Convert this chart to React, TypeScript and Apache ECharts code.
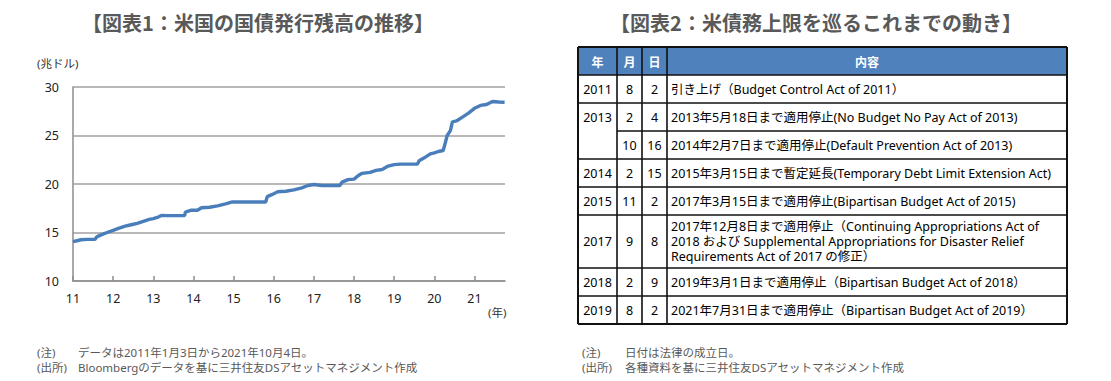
import React, { useEffect, useRef } from 'react';
import * as echarts from 'echarts';

const title1 = '【図表1：米国の国債発行残高の推移】';
const title2 = '【図表2：米債務上限を巡るこれまでの動き】';
const yUnitLabel = '(兆ドル)';
const xUnitLabel = '(年)';

const xTickYears = [2011, 2012, 2013, 2014, 2015, 2016, 2017, 2018, 2019, 2020, 2021];
const xTickLabels = ['11', '12', '13', '14', '15', '16', '17', '18', '19', '20', '21'];

// Debt outstanding (trillion USD)
const debtDates = [
  2011.0, 2011.1, 2011.2, 2011.35, 2011.55, 2011.59, 2011.7, 2011.85,
  2012.0, 2012.15, 2012.3, 2012.45, 2012.6, 2012.75, 2012.9,
  2013.0, 2013.1, 2013.2, 2013.35, 2013.55, 2013.78, 2013.8, 2013.95,
  2014.1, 2014.2, 2014.4, 2014.6, 2014.8, 2014.97,
  2015.2, 2015.5, 2015.8, 2015.84, 2015.95,
  2016.1, 2016.3, 2016.5, 2016.7, 2016.85,
  2017.0, 2017.2, 2017.45, 2017.65, 2017.7, 2017.85,
  2018.0, 2018.1, 2018.2, 2018.4, 2018.55, 2018.7, 2018.85,
  2019.0, 2019.15, 2019.35, 2019.58, 2019.62, 2019.75, 2019.9,
  2020.0, 2020.1, 2020.22, 2020.27, 2020.32, 2020.4, 2020.45, 2020.55, 2020.7, 2020.85,
  2021.0, 2021.15, 2021.3, 2021.45, 2021.6, 2021.75,
];
const debtValues = [
  14.05, 14.15, 14.25, 14.29, 14.29, 14.55, 14.75, 15.0,
  15.22, 15.45, 15.65, 15.8, 15.95, 16.15, 16.35,
  16.43, 16.55, 16.75, 16.74, 16.74, 16.74, 17.1, 17.3,
  17.3, 17.55, 17.6, 17.75, 17.95, 18.15,
  18.15, 18.15, 18.15, 18.7, 18.9,
  19.2, 19.25, 19.4, 19.6, 19.85,
  19.95, 19.85, 19.85, 19.85, 20.2, 20.45,
  20.5, 20.85, 21.1, 21.2, 21.4, 21.5, 21.85,
  22.0, 22.05, 22.05, 22.05, 22.4, 22.7, 23.1,
  23.2, 23.35, 23.45, 24.2, 25.0, 25.5, 26.4, 26.5, 26.9, 27.3,
  27.8, 28.1, 28.2, 28.5, 28.45, 28.43,
];

const tableHeaders = ['年', '月', '日', '内容'];
const tableYears = ['2011', '2013', '', '2014', '2015', '2017', '2018', '2019'];
const tableMonths = ['8', '2', '10', '2', '11', '9', '2', '8'];
const tableDays = ['2', '4', '16', '15', '2', '8', '9', '2'];
const tableContents = [
  '引き上げ（Budget Control Act of 2011）',
  '2013年5月18日まで適用停止(No Budget No Pay Act of 2013)',
  '2014年2月7日まで適用停止(Default Prevention Act of 2013)',
  '2015年3月15日まで暫定延長(Temporary Debt Limit Extension Act)',
  '2017年3月15日まで適用停止(Bipartisan Budget Act of 2015)',
  '2017年12月8日まで適用停止（Continuing Appropriations Act of\n2018 および Supplemental Appropriations for Disaster Relief\nRequirements Act of 2017 の修正）',
  '2019年3月1日まで適用停止（Bipartisan Budget Act of 2018）',
  '2021年7月31日まで適用停止（Bipartisan Budget Act of 2019）',
];

const notes1Tags = ['(注)', '(出所)'];
const notes1Texts = ['データは2011年1月3日から2021年10月4日。', 'Bloombergのデータを基に三井住友DSアセットマネジメント作成'];
const notes2Tags = ['(注)', '(出所)'];
const notes2Texts = ['日付は法律の成立日。', '各種資料を基に三井住友DSアセットマネジメント作成'];

const FONT = "'Noto Sans', 'Noto Sans CJK JP', sans-serif";
const CJK = "'Noto Sans CJK JP', sans-serif";

function buildTable(): any[] {
  const cols = [578, 617, 642, 667, 1067];
  const top = 47;
  const headH = 28;
  const baseH = 28;
  const extraLine = 12.5;
  const els: any[] = [];
  const right = cols[cols.length - 1];
  els.push({ type: 'rect', shape: { x: cols[0], y: top, width: right - cols[0], height: headH }, style: { fill: '#4f81bd' } });
  tableHeaders.forEach((h, i) => {
    els.push({
      type: 'text', x: (cols[i] + cols[i + 1]) / 2, y: top + headH / 2,
      style: { text: h, fill: '#fff', font: `bold 12px ${CJK}`, align: 'center', verticalAlign: 'middle' },
    });
  });
  const line = (x1: number, y1: number, x2: number, y2: number, w = 1.6) =>
    els.push({ type: 'line', shape: { x1, y1, x2, y2 }, style: { stroke: '#111', lineWidth: w } });

  let y = top + headH;
  const rowTops: number[] = [];
  const rowHs: number[] = [];
  tableContents.forEach((c) => {
    const n = c.split('\n').length;
    const h = baseH + (n - 1) * extraLine;
    rowTops.push(y);
    rowHs.push(h);
    y += h;
  });
  const bottom = y;

  tableContents.forEach((c, i) => {
    const cy = rowTops[i] + rowHs[i] / 2;
    const cells = [tableYears[i], tableMonths[i], tableDays[i]];
    cells.forEach((t, j) => {
      if (!t) return;
      els.push({
        type: 'text', x: (cols[j] + cols[j + 1]) / 2, y: cy,
        style: { text: t, fill: '#000', font: `12.5px ${FONT}`, align: 'center', verticalAlign: 'middle' },
      });
    });
    els.push({
      type: 'text', x: cols[3] + 4, y: cy,
      style: { text: c, fill: '#000', font: `12.5px ${FONT}`, align: 'left', verticalAlign: 'middle', lineHeight: 15 },
    });
    const nextMerged = i + 1 < tableYears.length && tableYears[i + 1] === '';
    line(nextMerged ? cols[1] : cols[0], rowTops[i] + rowHs[i], right, rowTops[i] + rowHs[i]);
  });
  line(cols[0], top, right, top, 2);
  line(cols[0], top + headH, right, top + headH);
  cols.forEach((x, k) => line(x, top, x, bottom, k === 0 || k === cols.length - 1 ? 2 : 1.6));
  line(cols[0], bottom, right, bottom, 2);
  return els;
}

function buildNotes(tags: string[], texts: string[], x: number, xText: number, y0: number): any[] {
  const els: any[] = [];
  tags.forEach((t, i) => {
    const y = y0 + i * 15;
    els.push({ type: 'text', x, y, style: { text: t, fill: '#595959', font: `11.5px ${FONT}`, verticalAlign: 'middle', lineHeight: 13 } });
    els.push({ type: 'text', x: xText, y, style: { text: texts[i], fill: '#595959', font: `11.5px ${FONT}`, verticalAlign: 'middle', lineHeight: 13 } });
  });
  return els;
}

export default function App() {
  const ref = useRef<HTMLDivElement>(null);
  useEffect(() => {
    if (!ref.current) return;
    const chart = echarts.init(ref.current, undefined, { renderer: 'svg' });
    const graphic: any[] = [
      { type: 'text', x: 258, y: 22, style: { text: title1, fill: '#595959', font: `bold 20px ${CJK}`, align: 'center', verticalAlign: 'middle' } },
      { type: 'text', x: 816, y: 22, style: { text: title2, fill: '#595959', font: `bold 20px ${CJK}`, align: 'center', verticalAlign: 'middle' } },
      { type: 'text', x: 37, y: 63, style: { text: yUnitLabel, fill: '#333', font: `11.5px ${FONT}`, verticalAlign: 'middle' } },
      { type: 'text', x: 488, y: 312, style: { text: xUnitLabel, fill: '#333', font: `11.5px ${FONT}`, verticalAlign: 'middle' } },
      ...buildTable(),
      ...buildNotes(notes1Tags, notes1Texts, 37, 78, 352),
      ...buildNotes(notes2Tags, notes2Texts, 582, 625, 352),
    ];
    chart.setOption({
      animation: false,
      grid: { left: 73, top: 87, width: 432, height: 194, containLabel: false },
      xAxis: {
        type: 'value', min: 2011, max: 2021.76, interval: 1,
        axisLine: { show: true, lineStyle: { color: '#8c8c8c', width: 1.5 } },
        axisTick: { show: true, inside: true, length: 5, customValues: xTickYears, lineStyle: { color: '#8c8c8c', width: 1.5 } },
        axisLabel: {
          customValues: xTickYears,
          formatter: (v: number) => xTickLabels[xTickYears.indexOf(Math.round(v))] ?? '',
          color: '#222', fontSize: 12.5, fontFamily: 'Noto Sans', margin: 11,
        },
        splitLine: { show: false },
      },
      yAxis: {
        type: 'value', min: 10, max: 30, interval: 5,
        axisLine: { show: true, lineStyle: { color: '#8c8c8c', width: 1.5 } },
        axisTick: { show: false },
        axisLabel: { color: '#222', fontSize: 12.5, fontFamily: 'Noto Sans', margin: 14 },
        splitLine: { show: true, lineStyle: { color: '#a0a0a0', width: 1.5 } },
      },
      series: [{
        type: 'line', showSymbol: false, silent: true,
        data: debtDates.map((d, i) => [d, debtValues[i]]),
        lineStyle: { color: '#4a7ebb', width: 3.4 },
        itemStyle: { color: '#4a7ebb' },
      }],
      graphic,
    });
    return () => chart.dispose();
  }, []);
  return <div ref={ref} style={{ position: 'absolute', left: 0, top: 0, width: 1111, height: 381, background: '#fff' }} />;
}
